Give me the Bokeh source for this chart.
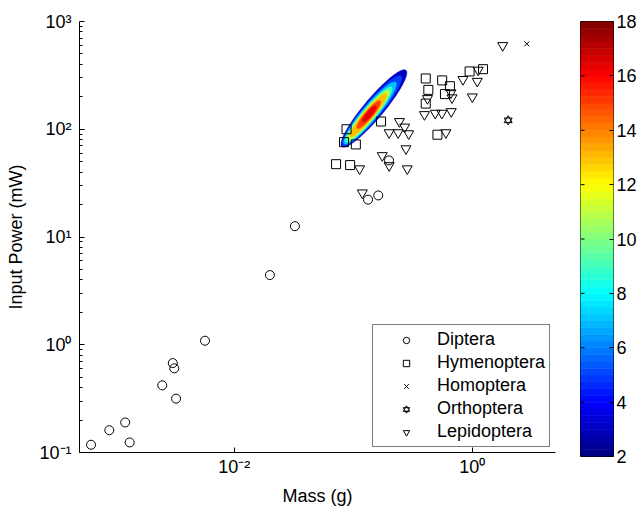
import numpy as np
from bokeh.plotting import figure
from bokeh.layouts import row
from bokeh.models import (FixedTicker, CustomJSTickFormatter, Legend, LegendItem, Range1d)
from bokeh.embed import file_html
from bokeh.resources import INLINE

FONT = "Liberation Sans"

# ---------------- data (mass in g, input power in mW) ----------------
diptera_mass = [6.25e-4, 8.9e-4, 1.21e-3, 1.32e-3, 2.48e-3, 3.04e-3, 3.13e-3, 3.24e-3,
                5.67e-3, 0.0199, 0.0323, 0.133, 0.162, 0.1995]
diptera_power = [0.118, 0.161, 0.19, 0.124, 0.42, 0.676, 0.604, 0.316,
                 1.09, 4.43, 12.6, 22.2, 24.3, 51.4]

hymen_mass = [0.0716, 0.094, 0.105, 0.0877, 0.0835, 0.171, 0.406, 0.427, 0.406,
              0.558, 0.648, 0.589, 0.509, 0.949, 1.23]
hymen_power = [47.4, 46.5, 72.3, 100, 75.9, 118, 296, 232, 173,
               284, 251, 212, 89, 344, 361]

homop_mass = [2.87]
homop_power = [621]

ortho_mass = [2.0]
ortho_power = [121]

lepid_mass = [1.80, 0.834, 1.10, 1.12, 1.0, 0.661, 0.675, 0.42, 0.396, 0.488, 0.555,
              0.665, 0.60, 0.244, 0.27, 0.20, 0.238, 0.292, 0.277, 0.175, 0.20,
              0.284, 0.113, 0.119]
lepid_power = [599, 290, 279, 354, 200, 218, 196, 193, 137, 141, 141,
               146, 93, 118, 105, 93, 93, 91, 66, 57, 46,
               43, 43, 25.7]

# density cloud: contour levels and their ellipse extents (log10 decades)
blob_levels = [2, 4, 6, 8, 10, 12, 14, 16]
blob_offset = [0.0, -0.027, -0.054, -0.072, -0.076, -0.078, -0.072, -0.063]
blob_semi_major = [0.445, 0.403, 0.358, 0.319, 0.286, 0.251, 0.161, 0.09]
blob_semi_minor = [0.086, 0.075, 0.066, 0.058, 0.050, 0.043, 0.034, 0.024]
blob_center_log = (-0.827, 2.193)
blob_angle_deg = 53.0

cbar_low, cbar_high = 2, 18
cbar_ticks = [2, 4, 6, 8, 10, 12, 14, 16, 18]
x_ticks = [1e-2, 1e0]
y_ticks = [1e-1, 1e0, 1e1, 1e2, 1e3]


def jet(v, lo=cbar_low, hi=cbar_high):
    t = (v - lo) / (hi - lo)
    c = lambda x: min(max(x, 0.0), 1.0)
    r = c(1.5 - abs(4 * t - 3))
    g = c(1.5 - abs(4 * t - 2))
    b = c(1.5 - abs(4 * t - 1))
    return "#%02x%02x%02x" % (int(round(r * 255)), int(round(g * 255)), int(round(b * 255)))


sup_js = """
const sup = {"-":"\u207b","0":"\u2070","1":"\u00b9","2":"\u00b2","3":"\u00b3","4":"\u2074",
             "5":"\u2075","6":"\u2076","7":"\u2077","8":"\u2078","9":"\u2079"};
const e = Math.round(Math.log10(tick));
return "10" + String(e).split("").map(c => sup[c]).join("");
"""

p = figure(frame_width=476, frame_height=431, x_axis_type="log", y_axis_type="log",
           x_range=Range1d(5e-4, 5), y_range=Range1d(0.1, 1000),
           output_backend="svg", toolbar_location=None,
           min_border_left=79, min_border_right=7, min_border_top=21, min_border_bottom=59)
p.outline_line_color = None
p.grid.visible = False
p.background_fill_color = "white"

# density cloud as nested contour bands
th = np.deg2rad(blob_angle_deg)
tt = np.linspace(0, 2 * np.pi, 120)
xs, ys, cols = [], [], []
for i, lev in enumerate(blob_levels):
    cx = blob_center_log[0] + blob_offset[i] * np.cos(th)
    cy = blob_center_log[1] + blob_offset[i] * np.sin(th)
    a, b = blob_semi_major[i], blob_semi_minor[i]
    ex = a * np.cos(tt)
    ey = b * np.sin(tt)
    lx = cx + ex * np.cos(th) - ey * np.sin(th)
    ly = cy + ex * np.sin(th) + ey * np.cos(th)
    xs.append(list(10 ** lx))
    ys.append(list(10 ** ly))
    cols.append(jet(min(lev + 1, 16.3)))
p.patches(xs, ys, fill_color=cols, line_color=cols, line_width=0.5)

common = dict(line_color="black", fill_color=None, line_width=1)
r_dip = p.scatter(diptera_mass, diptera_power, marker="circle", size=9, **common)
r_hym = p.scatter(hymen_mass, hymen_power, marker="square", size=9, **common)
r_hom = p.scatter(homop_mass, homop_power, marker="x", size=7, line_color="black", line_width=1)
r_or1 = p.scatter(ortho_mass, ortho_power, marker="triangle", size=8, **common)
r_or2 = p.scatter(ortho_mass, ortho_power, marker="inverted_triangle", size=8, **common)
r_lep = p.scatter(lepid_mass, lepid_power, marker="inverted_triangle", size=10, **common)

legend = Legend(items=[LegendItem(label="Diptera", renderers=[r_dip]),
                       LegendItem(label="Hymenoptera", renderers=[r_hym]),
                       LegendItem(label="Homoptera", renderers=[r_hom]),
                       LegendItem(label="Orthoptera", renderers=[r_or1, r_or2]),
                       LegendItem(label="Lepidoptera", renderers=[r_lep])],
                location=(293, 5))
legend.border_line_color = "black"
legend.border_line_width = 1
legend.background_fill_alpha = 1.0
legend.padding = 4
legend.spacing = 2
legend.margin = 0
legend.glyph_width = 58
legend.glyph_height = 16
legend.label_height = 16
legend.label_standoff = 2
legend.label_text_font = FONT
legend.label_text_font_size = "18px"
legend.label_text_color = "black"
p.add_layout(legend, "center")

for ax in (p.xaxis[0], p.yaxis[0]):
    ax.axis_line_color = "black"
    ax.major_tick_line_color = "black"
    ax.minor_tick_line_color = "black"
    ax.major_tick_in = 5
    ax.major_tick_out = 0
    ax.minor_tick_in = 3
    ax.minor_tick_out = 0
    ax.major_label_text_font = FONT
    ax.major_label_text_font_size = "18px"
    ax.major_label_text_color = "black"
    ax.axis_label_text_font = FONT
    ax.axis_label_text_font_size = "18px"
    ax.axis_label_text_font_style = "normal"
    ax.axis_label_text_color = "black"
    ax.formatter = CustomJSTickFormatter(code=sup_js)

p.xaxis.ticker = FixedTicker(ticks=x_ticks, minor_ticks=[])
y_minor = [k * 10.0 ** e for e in range(-1, 3) for k in range(2, 10)]
p.yaxis.ticker = FixedTicker(ticks=y_ticks, minor_ticks=y_minor)
p.xaxis.axis_label = "Mass (g)"
p.yaxis.axis_label = "Input Power (mW)"
p.xaxis.major_label_standoff = 4
p.xaxis.axis_label_standoff = 6
p.yaxis.major_label_standoff = 8
p.yaxis.axis_label_standoff = 10

# ---------------- colour bar ----------------
n_col = 64
edges = [cbar_low + (cbar_high - cbar_low) * i / n_col for i in range(n_col + 1)]
cb_cols = [jet((edges[i] + edges[i + 1]) / 2) for i in range(n_col)]

cb = figure(frame_width=33, frame_height=435, x_range=Range1d(0, 1),
            y_range=Range1d(cbar_low, cbar_high),
            output_backend="svg", toolbar_location=None, y_axis_location="right",
            min_border_left=18, min_border_right=24, min_border_top=21, min_border_bottom=55)
cb.grid.visible = False
cb.xaxis.visible = False
cb.outline_line_color = "black"
cb.outline_line_width = 1
cb.quad(left=0, right=1, bottom=edges[:-1], top=edges[1:], fill_color=cb_cols,
        line_color=cb_cols, line_width=0.6)
# inward tick marks on the left edge of the colour bar
cb.segment(x0=[0] * len(cbar_ticks), x1=[0.12] * len(cbar_ticks), y0=cbar_ticks, y1=cbar_ticks,
           line_color="black", line_width=1)

rax = cb.yaxis[0]
rax.ticker = FixedTicker(ticks=cbar_ticks, minor_ticks=[])
rax.axis_line_color = None
rax.major_tick_line_color = "black"
rax.major_tick_in = 4
rax.major_tick_out = 0
rax.minor_tick_line_color = None
rax.major_label_text_font = FONT
rax.major_label_text_font_size = "18px"
rax.major_label_text_color = "black"
rax.major_label_standoff = 3

layout = row(p, cb)
open("out.html", "w").write(file_html(layout, INLINE))
